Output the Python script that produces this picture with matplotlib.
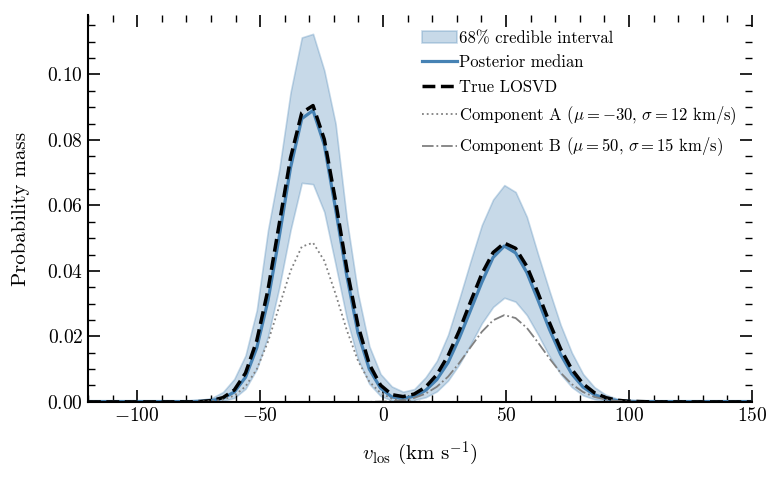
import numpy as np
import matplotlib
matplotlib.use('Agg')
import matplotlib.pyplot as plt
from matplotlib.ticker import MultipleLocator

plt.rcParams['font.family'] = 'serif'
plt.rcParams['font.serif'] = ['cmr10']
plt.rcParams['mathtext.fontset'] = 'cm'
plt.rcParams['axes.formatter.use_mathtext'] = True

# velocity grid (60 points from -120 to 150 km/s)
v = np.linspace(-120, 150, 60)

# true LOSVD
true_losvd = [0, 0, 0, 0, 0, 0, 0, 0, 0, 0,
              0.0001, 0.0004, 0.0013, 0.0036, 0.0088, 0.0187, 0.0343, 0.0544, 0.0745, 0.0883,
              0.0905, 0.0802, 0.0614, 0.0407, 0.0233, 0.0115, 0.0051, 0.0022, 0.0016, 0.0024,
              0.0045, 0.0083, 0.0141, 0.0218, 0.0306, 0.0391, 0.0456, 0.0485, 0.0469, 0.0414,
              0.0332, 0.0243, 0.0162, 0.0099, 0.0055, 0.0028, 0.0013, 0.0005, 0.0002, 0.0001,
              0, 0, 0, 0, 0, 0, 0, 0, 0, 0]

# posterior median
post_med = [0.0001, 0.0001, 0.0001, 0.0001, 0.0001, 0.0001, 0.0001, 0.0001, 0.0001, 0.0001,
            0.0002, 0.0004, 0.0011, 0.0030, 0.0075, 0.0165, 0.0310, 0.0505, 0.0715, 0.0865,
            0.0890, 0.0785, 0.0590, 0.0385, 0.0210, 0.0100, 0.0042, 0.0015, 0.0010, 0.0017,
            0.0035, 0.0068, 0.0120, 0.0195, 0.0280, 0.0365, 0.0441, 0.0476, 0.0455, 0.0395,
            0.0310, 0.0222, 0.0145, 0.0085, 0.0045, 0.0022, 0.0010, 0.0004, 0.0002, 0.0001,
            0.0001, 0.0001, 0.0001, 0.0001, 0.0001, 0.0001, 0.0001, 0.0001, 0.0001, 0.0001]

# 68% credible interval
ci_low = [0, 0, 0, 0, 0, 0, 0, 0, 0, 0,
          0, 0, 0.0003, 0.0012, 0.0040, 0.0100, 0.0200, 0.0350, 0.0525, 0.0669,
          0.0665, 0.0580, 0.0420, 0.0255, 0.0130, 0.0055, 0.0018, 0.0004, 0.0003, 0.0006,
          0.0014, 0.0032, 0.0065, 0.0115, 0.0175, 0.0240, 0.0290, 0.0318, 0.0306, 0.0265,
          0.0205, 0.0140, 0.0085, 0.0045, 0.0020, 0.0008, 0.0003, 0, 0, 0,
          0, 0, 0, 0, 0, 0, 0, 0, 0, 0]
ci_high = [0.0004, 0.0004, 0.0004, 0.0004, 0.0004, 0.0004, 0.0004, 0.0004, 0.0004, 0.0004,
           0.0006, 0.0012, 0.0030, 0.0070, 0.0142, 0.0280, 0.0525, 0.0710, 0.0945, 0.1113,
           0.1124, 0.1012, 0.0850, 0.0558, 0.0330, 0.0170, 0.0085, 0.0047, 0.0031, 0.0039,
           0.0075, 0.0125, 0.0205, 0.0315, 0.0430, 0.0540, 0.0618, 0.0662, 0.0641, 0.0565,
           0.0450, 0.0340, 0.0235, 0.0150, 0.0085, 0.0045, 0.0022, 0.0010, 0.0005, 0.0004,
           0.0004, 0.0004, 0.0004, 0.0004, 0.0004, 0.0004, 0.0004, 0.0004, 0.0004, 0.0004]

# components
comp_a = [0, 0, 0, 0, 0, 0, 0, 0, 0, 0,
          0.0001, 0.0002, 0.0007, 0.0019, 0.0047, 0.0100, 0.0184, 0.0292, 0.0400, 0.0474,
          0.0486, 0.0431, 0.0330, 0.0219, 0.0125, 0.0062, 0.0027, 0.0010, 0.0003, 0.0001,
          0, 0, 0, 0, 0, 0, 0, 0, 0, 0,
          0, 0, 0, 0, 0, 0, 0, 0, 0, 0,
          0, 0, 0, 0, 0, 0, 0, 0, 0, 0]
comp_b = [0, 0, 0, 0, 0, 0, 0, 0, 0, 0,
          0, 0, 0, 0, 0, 0, 0, 0, 0, 0,
          0, 0, 0, 0, 0, 0, 0.0001, 0.0002, 0.0005, 0.0012,
          0.0025, 0.0046, 0.0077, 0.0119, 0.0167, 0.0214, 0.0249, 0.0265, 0.0256, 0.0226,
          0.0181, 0.0133, 0.0089, 0.0054, 0.0030, 0.0015, 0.0007, 0.0003, 0.0001, 0,
          0, 0, 0, 0, 0, 0, 0, 0, 0, 0]

fig = plt.figure(figsize=(7.82, 4.83), dpi=100)
ax = fig.add_axes([0.1125, 0.168, 0.849, 0.80])

ax.fill_between(v, ci_low, ci_high, color='steelblue', alpha=0.3, lw=1.2,
                label='68% credible interval')
ax.plot(v, post_med, color='steelblue', lw=2.3, label='Posterior median')
ax.plot(v, true_losvd, color='k', lw=2.5, ls='--', label='True LOSVD')
ax.plot(v, comp_a, color='gray', lw=1.3, ls=':',
        label=r'Component A ($\mu=-30$, $\sigma=12$ km/s)')
ax.plot(v, comp_b, color='gray', lw=1.3, ls='-.',
        label=r'Component B ($\mu=50$, $\sigma=15$ km/s)')

ax.set_xlim(-120, 150)
ax.set_ylim(0, max(ci_high) * 1.05)
ax.set_xlabel(r'$v_{\rm los}$ (km s$^{-1}$)', fontsize=15, labelpad=11)
ax.set_ylabel('Probability mass', fontsize=15, labelpad=12)

ax.xaxis.set_major_locator(MultipleLocator(50))
ax.xaxis.set_minor_locator(MultipleLocator(10))
ax.yaxis.set_major_locator(MultipleLocator(0.02))
ax.yaxis.set_minor_locator(MultipleLocator(0.005))
ax.tick_params(which='both', direction='in', top=True, right=True, labelsize=14)
ax.tick_params(which='major', length=8.5, width=1.2)
ax.tick_params(which='minor', length=5.3, width=1.0)
ax.spines['top'].set_visible(False)
ax.spines['right'].set_visible(False)
ax.spines['left'].set_linewidth(1.5)
ax.spines['bottom'].set_linewidth(1.5)

ax.legend(loc='upper right', frameon=False, fontsize=12, handlelength=2.1,
          handletextpad=0.15, labelspacing=0.55, borderaxespad=0.5)

fig.savefig('out.png', dpi=100)
